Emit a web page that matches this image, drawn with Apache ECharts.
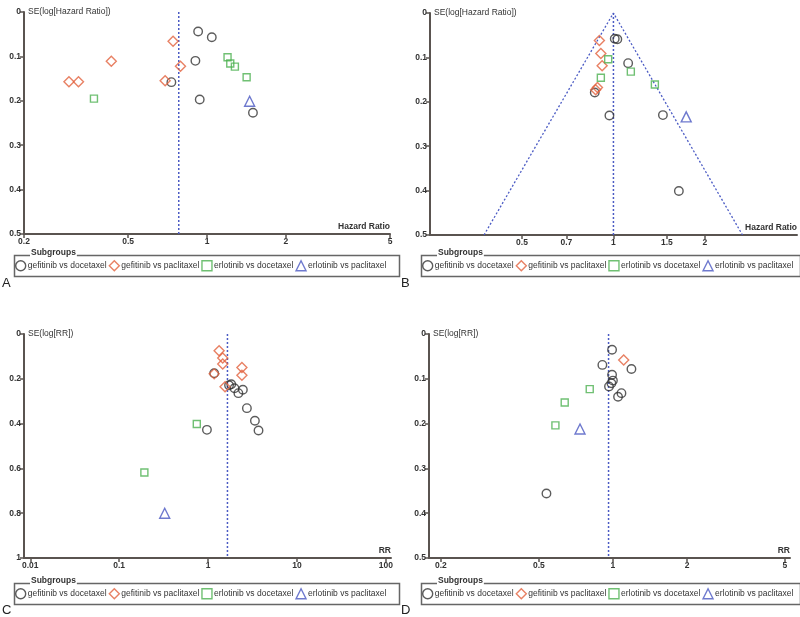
<!DOCTYPE html>
<html>
<head>
<meta charset="utf-8">
<script src="https://cdn.jsdelivr.net/npm/echarts@6/dist/echarts.min.js"></script>
<style>
  html, body { margin: 0; padding: 0; background: #fff; }
  #chart { width: 800px; height: 617px; }
</style>
</head>
<body>
<div id="chart"></div>
<script>
// subgroup names
var groups = ['gefitinib vs docetaxel', 'gefitinib vs paclitaxel', 'erlotinib vs docetaxel', 'erlotinib vs paclitaxel'];

// Panel A: [hazard ratio, SE(log HR)]
var aGefDoc = [[0.925, 0.044], [1.043, 0.057], [0.903, 0.110], [0.731, 0.158], [0.938, 0.197], [1.498, 0.227]];
var aGefPac = [[0.297, 0.157], [0.323, 0.157], [0.431, 0.111], [0.742, 0.066], [0.792, 0.122], [0.692, 0.155]];
var aErlDoc = [[0.370, 0.195], [1.198, 0.102], [1.227, 0.116], [1.278, 0.123], [1.417, 0.147]];
var aErlPac = [[1.455, 0.201]];
var aPooled = 0.78;

// Panel B
var bGefDoc = [[1.01, 0.058], [1.03, 0.059], [1.118, 0.113], [0.868, 0.179], [0.970, 0.231], [1.455, 0.230], [1.642, 0.401]];
var bGefPac = [[0.899, 0.062], [0.909, 0.091], [0.918, 0.119], [0.886, 0.168], [0.874, 0.173]];
var bErlDoc = [[0.961, 0.104], [0.909, 0.146], [1.141, 0.132], [1.369, 0.161]];
var bErlPac = [[1.736, 0.234]];
var bPooled = 1.0;
var bFunnel = [[0.375, 0.5], [1.0, 0], [2.66, 0.5]];

// Panel C: [RR, SE(log RR)]
var cGefDoc = [[1.17, 0.175], [1.82, 0.224], [1.72, 0.229], [1.98, 0.242], [2.46, 0.249], [2.19, 0.264], [2.73, 0.331], [3.36, 0.387], [3.69, 0.431], [0.97, 0.428]];
var cGefPac = [[1.33, 0.075], [1.46, 0.107], [1.46, 0.134], [2.40, 0.150], [2.40, 0.184], [1.55, 0.235], [1.17, 0.178]];
var cErlDoc = [[0.746, 0.402], [0.192, 0.618]];
var cErlPac = [[0.325, 0.80]];
var cPooled = 1.65;

// Panel D
var dGefDoc = [[0.992, 0.035], [0.906, 0.069], [1.189, 0.078], [0.992, 0.091], [1.0, 0.104], [0.986, 0.110], [0.964, 0.117], [1.083, 0.132], [1.049, 0.140], [0.537, 0.356]];
var dGefPac = [[1.106, 0.058]];
var dErlDoc = [[0.805, 0.123], [0.637, 0.153], [0.584, 0.204]];
var dErlPac = [[0.735, 0.212]];
var dPooled = 0.96;

// axis ticks
var ticksA = [0.2, 0.5, 1, 2, 5];
var ticksB = [0.5, 0.7, 1, 1.5, 2];
var ticksC = [0.01, 0.1, 1, 10, 100];
var ticksD = [0.2, 0.5, 1, 2, 5];

var symbols = ['circle', 'diamond', 'rect', 'triangle'];
var colors = ['#333333', '#e2623d', '#4cb050', '#4a57c2'];
var sizes = [8.5, 10, 7, 10];
var lineColor = '#4b5bc4';

var panels = [
  {grid: {left: 24, top: 12, width: 366, height: 222}, x: [0.2, 5], ticks: ticksA, yMax: 0.5, yInt: 0.1,
   xName: 'Hazard Ratio', yName: 'SE(log[Hazard Ratio])', sets: [aGefDoc, aGefPac, aErlDoc, aErlPac], pooled: aPooled},
  {grid: {left: 430, top: 13, width: 367, height: 222}, x: [0.249, 4.02], ticks: ticksB, yMax: 0.5, yInt: 0.1,
   xName: 'Hazard Ratio', yName: 'SE(log[Hazard Ratio])', sets: [bGefDoc, bGefPac, bErlDoc, bErlPac], pooled: bPooled, funnel: bFunnel},
  {grid: {left: 24, top: 334, width: 367, height: 224}, x: [0.0085, 114], ticks: ticksC, yMax: 1, yInt: 0.2,
   xName: 'RR', yName: 'SE(log[RR])', sets: [cGefDoc, cGefPac, cErlDoc, cErlPac], pooled: cPooled},
  {grid: {left: 429, top: 334, width: 361, height: 224}, x: [0.179, 5.24], ticks: ticksD, yMax: 0.5, yInt: 0.1,
   xName: 'RR', yName: 'SE(log[RR])', sets: [dGefDoc, dGefPac, dErlDoc, dErlPac], pooled: dPooled}
];

var axisColor = '#5a5450';
var labelStyle = {fontSize: 8.5, color: '#333', fontFamily: 'Liberation Sans, Arial', fontWeight: 'bold'};

var grids = [], xAxes = [], yAxes = [], series = [], legends = [], graphics = [];
var letters = ['A', 'B', 'C', 'D'];

panels.forEach(function (p, i) {
  grids.push(p.grid);
  xAxes.push({
    type: 'log', gridIndex: i, min: p.x[0], max: p.x[1], position: 'bottom',
    name: p.xName, nameLocation: 'end', nameGap: 0,
    nameTextStyle: {fontSize: 8.5, fontWeight: 'bold', color: '#333', align: 'right', verticalAlign: 'bottom', padding: [0, 0, 3, 0]},
    axisLine: {onZero: false, lineStyle: {color: axisColor, width: 2}},
    axisTick: {show: true, length: 4, lineStyle: {color: axisColor, width: 1.5}, customValues: p.ticks},
    axisLabel: Object.assign({margin: 3, customValues: p.ticks, formatter: function (v) { return String(+(+v).toPrecision(3)); }}, labelStyle),
    splitLine: {show: false}, minorTick: {show: false}
  });
  yAxes.push({
    type: 'value', gridIndex: i, inverse: true, min: 0, max: p.yMax, interval: p.yInt,
    name: p.yName, nameLocation: 'start', nameGap: 0,
    nameTextStyle: {fontSize: 8.5, color: '#333', align: 'left', verticalAlign: 'middle', padding: [0, 0, 16, 4]},
    axisLine: {onZero: false, lineStyle: {color: axisColor, width: 2}},
    axisTick: {show: true, length: 4, lineStyle: {color: axisColor, width: 1.5}},
    axisLabel: Object.assign({margin: 3}, labelStyle),
    splitLine: {show: false}
  });
  // pooled estimate line
  series.push({
    type: 'line', xAxisIndex: i, yAxisIndex: i, silent: true, symbol: 'none',
    data: [[p.pooled, 0], [p.pooled, p.yMax]],
    lineStyle: {color: lineColor, width: 1.5, type: [2, 2]}, z: 1
  });
  if (p.funnel) {
    series.push({
      type: 'line', xAxisIndex: i, yAxisIndex: i, silent: true, symbol: 'none',
      data: p.funnel,
      lineStyle: {color: lineColor, width: 1.3, type: [2, 2]}, z: 1
    });
  }
  p.sets.forEach(function (d, k) {
    series.push({
      name: groups[k], type: 'scatter', xAxisIndex: i, yAxisIndex: i,
      symbol: symbols[k], symbolSize: sizes[k], data: d,
      itemStyle: {color: 'rgba(0,0,0,0)', borderColor: colors[k], borderWidth: 1.4}, z: 3
    });
  });

  var boxX = i % 2 === 0 ? 12 : 419;
  var boxW = i % 2 === 0 ? 385 : 379;
  var boxY = i < 2 ? 253 : 581;
  legends.push({
    left: boxX + 3, top: boxY + 7, orient: 'horizontal',
    itemWidth: 10, itemHeight: 10, itemGap: 2, padding: 0,
    selectedMode: false,
    textStyle: {fontSize: 8.5, color: '#333', fontFamily: 'Liberation Sans, Arial', padding: [2, 0, 0, -3]},
    itemStyle: {borderWidth: 1.4},
    data: groups.map(function (g, k) { return {name: g, icon: symbols[k]}; })
  });
  graphics.push({
    type: 'rect', left: boxX, top: boxY, silent: true,
    shape: {width: boxW, height: 21},
    style: {fill: 'none', stroke: '#666', lineWidth: 1.5}
  });
  graphics.push({
    type: 'text', left: boxX + 18, top: boxY - 5, silent: true,
    style: {text: 'Subgroups', font: 'bold 8.5px Liberation Sans, Arial', fill: '#333', backgroundColor: '#fff', padding: [0, 1]}
  });
  graphics.push({
    type: 'text', left: i % 2 === 0 ? 2 : 401, top: i < 2 ? 277 : 604, silent: true,
    style: {text: letters[i], font: '13px Liberation Sans, Arial', fill: '#222'}
  });
});

var chart = echarts.init(document.getElementById('chart'));
chart.setOption({
  animation: false,
  backgroundColor: '#fff',
  grid: grids,
  xAxis: xAxes,
  yAxis: yAxes,
  legend: legends,
  graphic: graphics,
  series: series
});
</script>
</body>
</html>
